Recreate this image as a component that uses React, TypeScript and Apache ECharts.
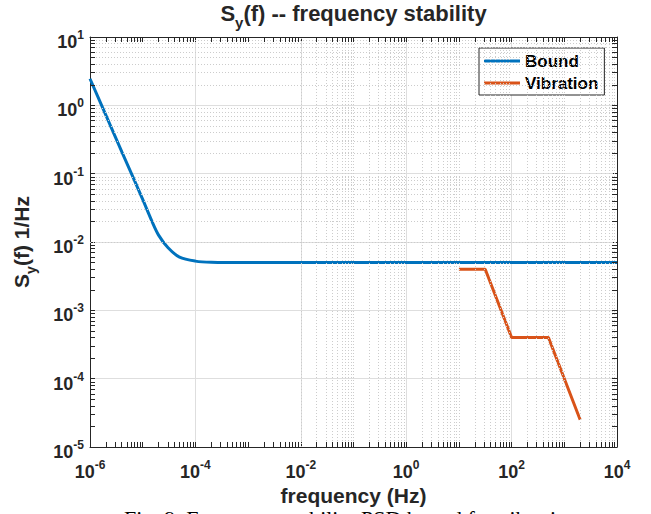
import React, { useEffect, useRef } from 'react';
import * as echarts from 'echarts';

// ---- data ----
const boundFreq = [1e-6, 2e-6, 4e-6, 7e-6, 1e-5, 1.5e-5, 2e-5, 3e-5, 5e-5, 1e-4, 2e-4, 1e-3, 1e4];
const boundValue = [2.45, 0.72, 0.21, 0.079, 0.042, 0.02, 0.0126, 0.0083, 0.006, 0.00525, 0.00505, 0.005, 0.005];
const vibFreq = [10, 31.6, 100, 500, 2000];
const vibValue = [0.004, 0.004, 0.0004, 0.0004, 2.5e-5];
const xRange = [1e-6, 1e4];
const yRange = [1e-5, 10];
const seriesNames = ['Bound', 'Vibration'];
const titleParts = ['S', 'y', '(f) -- frequency stability'];
const yLabelParts = ['S', 'y', '(f) 1/Hz'];
const xLabel = 'frequency (Hz)';
const caption = 'Fig. 9. Frequency stability PSD bound for vibration';

const FONT = '"Liberation Sans", Arial, Helvetica, sans-serif';
const TXT = '#262626';

export default function App() {
  const ref = useRef<HTMLDivElement>(null);
  useEffect(() => {
    if (!ref.current) return;
    const chart = echarts.init(ref.current, undefined, { renderer: 'svg' });

    const minorX: number[] = [];
    for (let d = -6; d < 4; d++) for (let k = 2; k <= 9; k++) minorX.push(k * Math.pow(10, d));
    for (let d = -5; d < 4; d += 2) minorX.push(Math.pow(10, d));
    const minorY: number[] = [];
    for (let d = -5; d < 1; d++) for (let k = 2; k <= 9; k++) minorY.push(k * Math.pow(10, d));

    const fx = Math.pow(10, 5 / 52.6);
    const fy = Math.pow(10, 5 / 68.3);
    const tickSegs: any[] = [];
    minorX.forEach((v) => {
      tickSegs.push([{ coord: [v, yRange[0]] }, { coord: [v, yRange[0] * fy] }]);
      tickSegs.push([{ coord: [v, yRange[1]] }, { coord: [v, yRange[1] / fy] }]);
    });
    minorY.forEach((v) => {
      tickSegs.push([{ coord: [xRange[0], v] }, { coord: [xRange[0] * fx, v] }]);
      tickSegs.push([{ coord: [xRange[1], v] }, { coord: [xRange[1] / fx, v] }]);
    });

    const fmt = (v: number) => `{b|10}{s|${Math.round(Math.log10(v))}}`;
    const rich = {
      b: { fontSize: 18, fontWeight: 'bold', fontFamily: FONT, color: TXT, lineHeight: 22, verticalAlign: 'bottom' },
      s: { fontSize: 12, fontWeight: 'bold', fontFamily: FONT, color: TXT, lineHeight: 8, verticalAlign: 'top' },
    };
    const axisLine = { show: true, lineStyle: { color: TXT, width: 1 } };
    const axisTick = { show: true, inside: true, length: 5, lineStyle: { color: TXT, width: 1 } };
    const splitLine = { show: true, lineStyle: { color: '#dedede', width: 1, type: 'solid' } };

    const mkRich = (size: number, sub: number) => ({
      t: { fontSize: size, fontWeight: 'bold', fontFamily: FONT, fill: TXT, lineHeight: size + 6, verticalAlign: 'top' },
      sub: { fontSize: sub, fontWeight: 'bold', fontFamily: FONT, fill: TXT, lineHeight: 12, verticalAlign: 'bottom' },
    });

    chart.setOption({
      animation: false,
      backgroundColor: '#ffffff',
      grid: { left: 90, right: 34, top: 37, bottom: 67, containLabel: false, outerBoundsMode: 'none' },
      legend: {
        data: seriesNames,
        orient: 'vertical',
        left: 479,
        top: 48,
        icon: 'rect',
        itemWidth: 36,
        itemHeight: 3,
        itemGap: 4,
        itemTextGap: 5,
        padding: [4, 6, 3, 5],
        backgroundColor: '#ffffff',
        borderColor: TXT,
        borderWidth: 1,
        borderRadius: 0,
        selectedMode: false,
        textStyle: { fontFamily: FONT, fontWeight: 'bold', fontSize: 17, color: '#000', lineHeight: 18 },
      },
      xAxis: [
        {
          type: 'log', logBase: 10, min: xRange[0], max: xRange[1], interval: 2,
          axisLine, axisTick, splitLine,
          axisLabel: { formatter: fmt, rich, margin: 12, showMinLabel: true, showMaxLabel: true },
        },
        {
          type: 'log', logBase: 10, min: xRange[0], max: xRange[1], interval: 2, position: 'top',
          axisLine, axisTick, splitLine: { show: false }, axisLabel: { show: false },
        },
      ],
      yAxis: [
        {
          type: 'log', logBase: 10, min: yRange[0], max: yRange[1], interval: 1,
          axisLine, axisTick, splitLine,
          axisLabel: { formatter: fmt, rich, margin: 6, padding: [6, 0, 0, 0] },
        },
        {
          type: 'log', logBase: 10, min: yRange[0], max: yRange[1], interval: 1, position: 'right',
          axisLine, axisTick, splitLine: { show: false }, axisLabel: { show: false },
        },
      ],
      series: [
        {
          name: '_grid', type: 'line', data: [[xRange[0], yRange[0]]], symbol: 'none', silent: true, z: 1,
          lineStyle: { opacity: 0 },
          markLine: {
            silent: true, symbol: ['none', 'none'], label: { show: false },
            lineStyle: { type: [1, 2], color: '#cccccc', width: 1 },
            emphasis: { disabled: true },
            data: [...minorX.map((v) => ({ xAxis: v })), ...minorY.map((v) => ({ yAxis: v }))],
          },
        },
        {
          name: '_ticks', type: 'line', data: [[xRange[0], yRange[0]]], symbol: 'none', silent: true, z: 5,
          lineStyle: { opacity: 0 },
          markLine: {
            silent: true, symbol: ['none', 'none'], label: { show: false },
            lineStyle: { type: 'solid', color: TXT, width: 1 },
            emphasis: { disabled: true },
            data: tickSegs,
          },
        },
        {
          name: seriesNames[0], type: 'line', z: 3,
          data: boundFreq.map((f, i) => [f, boundValue[i]]),
          symbol: 'none', smooth: 0.3,
          lineStyle: { color: '#0072BD', width: 3 },
          itemStyle: { color: '#0072BD' },
        },
        {
          name: seriesNames[1], type: 'line', z: 3,
          data: vibFreq.map((f, i) => [f, vibValue[i]]),
          symbol: 'none',
          lineStyle: { color: '#D95319', width: 3 },
          itemStyle: { color: '#D95319' },
        },
      ],
      graphic: [
        {
          type: 'text', x: 353.5, y: 16, silent: true,
          style: {
            text: `{t|${titleParts[0]}}{sub|${titleParts[1]}}{t|${titleParts[2]}}`,
            rich: mkRich(22, 15), textAlign: 'center', textVerticalAlign: 'middle',
          },
        },
        {
          type: 'text', x: 24, y: 242, rotation: Math.PI / 2, silent: true,
          style: {
            text: `{t|${yLabelParts[0]}}{sub|${yLabelParts[1]}}{t|${yLabelParts[2]}}`,
            rich: mkRich(21, 14), textAlign: 'center', textVerticalAlign: 'middle',
          },
        },
        {
          type: 'text', x: 353.5, y: 495, silent: true,
          style: {
            text: xLabel, font: `bold 21px ${FONT}`, fill: TXT,
            textAlign: 'center', textVerticalAlign: 'middle',
          },
        },
        {
          type: 'text', x: 351, y: 507, silent: true,
          style: {
            text: caption, font: '22px "Liberation Serif", "Times New Roman", serif', fill: '#000',
            textAlign: 'center', textVerticalAlign: 'top',
          },
        },
      ],
    });
    return () => chart.dispose();
  }, []);
  return (
    <div
      ref={ref}
      style={{ position: 'absolute', left: 0, top: 0, width: 651, height: 514, overflow: 'hidden' }}
    />
  );
}
